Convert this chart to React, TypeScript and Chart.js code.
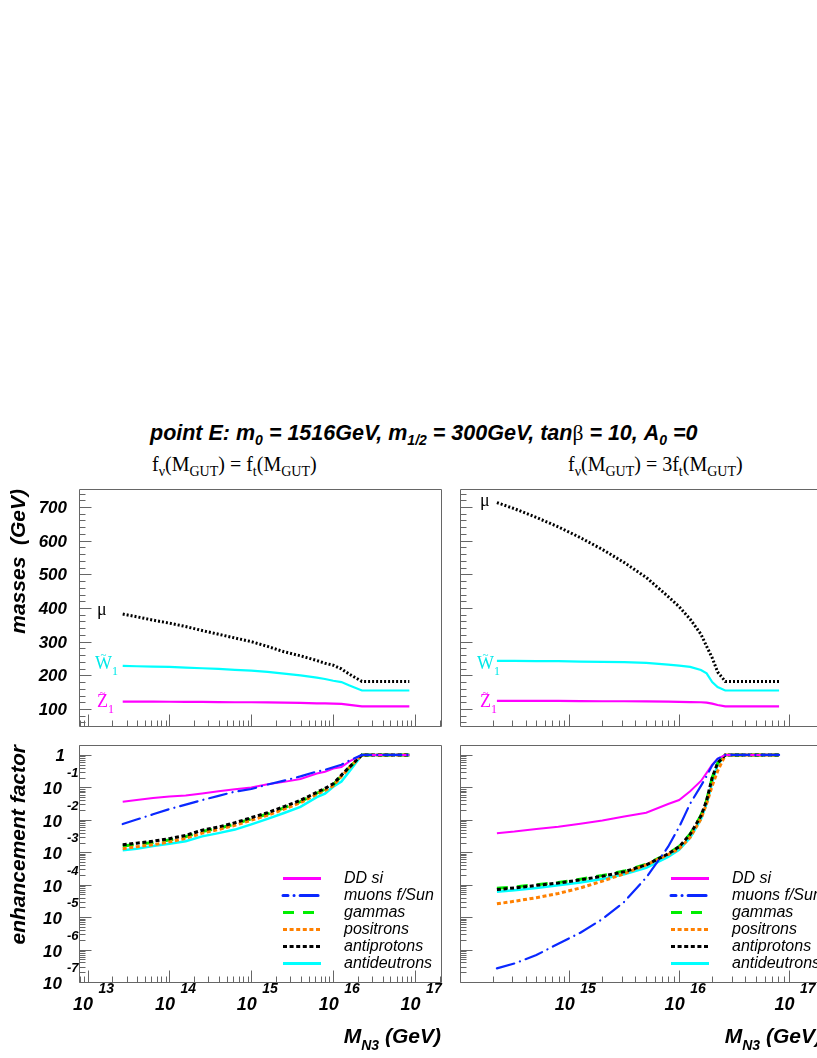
import { useEffect, useRef } from 'react';
import { Chart, registerables } from 'chart.js';

Chart.register(...registerables);

// ---------------- DATA ----------------
// M_N3 values (GeV), left panels: f_nu = f_t
const xLeft = [2.69e13, 3.98e13, 6.31e13, 1.0e14, 1.58e14, 2.51e14, 3.98e14, 6.31e14, 1.0e15, 1.58e15, 2.51e15, 3.98e15, 6.31e15, 7.94e15, 1.0e16, 1.26e16, 1.58e16, 2.24e16, 3.16e16, 5.01e16, 8.5e16];
// M_N3 values (GeV), right panels: f_nu = 3 f_t
const xRight = [2.19e14, 3.16e14, 5.01e14, 7.94e14, 1.26e15, 2.0e15, 3.16e15, 5.01e15, 7.94e15, 1.0e16, 1.26e16, 1.58e16, 1.78e16, 2.0e16, 2.24e16, 2.63e16, 3.55e16, 5.01e16, 8.13e16];

// masses (GeV)
const muMassLeft = [382, 374, 364, 355, 345, 333, 322, 311, 300, 286, 270, 258, 244, 236, 230, 219, 203, 182, 182, 182, 182];
const w1MassLeft = [228, 227, 226, 225, 223, 221, 219, 216, 214, 210, 205, 200, 193, 189, 184, 180, 170, 155, 155, 155, 155];
const z1MassLeft = [122, 122, 122, 121.5, 121, 121, 120.5, 120, 120, 119.5, 119, 118, 117, 116.5, 116, 115, 112, 108, 108, 108, 108];

const muMassRight = [713, 695, 669, 641, 609, 574, 535, 491, 434, 404, 367, 322, 286, 252, 210, 182, 182, 182, 182];
const w1MassRight = [243, 243, 242.5, 242, 241, 240, 239, 237, 232, 229, 225, 216, 206, 180, 165, 155, 155, 155, 155];
const z1MassRight = [124, 124, 124, 124, 123.5, 123, 123, 122.5, 122, 121, 120.5, 120, 119, 116, 112, 108, 108, 108, 108];

// enhancement factors
const ddLeft = [0.0363, 0.0407, 0.0468, 0.0525, 0.0562, 0.0646, 0.0759, 0.0871, 0.1, 0.126, 0.148, 0.182, 0.269, 0.302, 0.38, 0.427, 0.631, 1, 1, 1, 1];
const muonsLeft = [0.00741, 0.0102, 0.0148, 0.0214, 0.0295, 0.0407, 0.055, 0.0741, 0.0891, 0.123, 0.162, 0.219, 0.309, 0.347, 0.417, 0.501, 0.676, 1, 1, 1, 1];
const gammasLeft = [0.00155, 0.00174, 0.002, 0.0024, 0.00302, 0.00437, 0.0055, 0.00741, 0.0107, 0.0151, 0.0234, 0.0363, 0.0661, 0.0871, 0.12, 0.229, 0.417, 1, 1, 1, 1];
const positronsLeft = [0.00129, 0.00148, 0.0017, 0.00209, 0.00269, 0.00389, 0.00501, 0.00676, 0.00977, 0.0138, 0.0214, 0.0339, 0.0617, 0.0813, 0.112, 0.219, 0.407, 1, 1, 1, 1];
const antiprotonsLeft = [0.0017, 0.00191, 0.00219, 0.00263, 0.00331, 0.00479, 0.00603, 0.00813, 0.0117, 0.0166, 0.0257, 0.0398, 0.0708, 0.0933, 0.129, 0.24, 0.427, 1, 1, 1, 1];
const antideutronsLeft = [0.00115, 0.00129, 0.00155, 0.00182, 0.00219, 0.00309, 0.00389, 0.00501, 0.00724, 0.0107, 0.0162, 0.0251, 0.0501, 0.0646, 0.105, 0.151, 0.316, 1, 1, 1, 1];

const ddRight = [0.00389, 0.00437, 0.00525, 0.00617, 0.00759, 0.00955, 0.0126, 0.0166, 0.0309, 0.0407, 0.0759, 0.158, 0.28, 0.5, 0.76, 1, 1, 1, 1];
const muonsRight = [2.63e-7, 3.72e-7, 6.76e-7, 1.51e-6, 3.31e-6, 8.71e-6, 2.95e-5, 1.66e-4, 1.48e-3, 6.03e-3, 0.0316, 0.112, 0.224, 0.479, 0.759, 1, 1, 1, 1];
const gammasRight = [7.76e-5, 8.51e-5, 1.0e-4, 1.17e-4, 1.48e-4, 1.91e-4, 2.63e-4, 4.27e-4, 9.12e-4, 1.51e-3, 3.63e-3, 0.0135, 0.0398, 0.2, 0.562, 1, 1, 1, 1];
const positronsRight = [2.57e-5, 3.09e-5, 3.98e-5, 5.37e-5, 7.94e-5, 1.29e-4, 2.19e-4, 4.07e-4, 8.51e-4, 1.29e-3, 2.88e-3, 0.0107, 0.0316, 0.112, 0.316, 1, 1, 1, 1];
const antiprotonsRight = [7.08e-5, 7.94e-5, 9.55e-5, 1.12e-4, 1.41e-4, 1.82e-4, 2.51e-4, 4.07e-4, 8.91e-4, 1.48e-3, 3.55e-3, 0.0132, 0.0398, 0.2, 0.562, 1, 1, 1, 1];
const antideutronsRight = [6.03e-5, 6.76e-5, 7.94e-5, 9.55e-5, 1.17e-4, 1.51e-4, 2.09e-4, 3.31e-4, 7.24e-4, 1.2e-3, 2.82e-3, 0.0105, 0.0316, 0.141, 0.501, 1, 1, 1, 1];

const massTicks = [100, 200, 300, 400, 500, 600, 700];
const legendLabels = ['DD si', 'muons f/Sun', 'gammas', 'positrons', 'antiprotons', 'antideutrons'];

// ---------------- STYLE ----------------
const SANS = '"Liberation Sans", Arial, Helvetica, sans-serif';
const SERIF = '"Liberation Serif", "Times New Roman", serif';
const AX = '#666';

type Series = {
  label: string; values: number[]; color: string; width: number; dash: number[];
  cap?: CanvasLineCap; order: number; legendOffset?: number;
};
type Annot = { text: string; sub?: string; tilde?: boolean; color: string; y: number; dx: number };
type PanelCfg = {
  left: number; top: number; w: number; h: number;
  pad: { left: number; top: number; right: number; bottom: number };
  x: number[]; xMin: number; xMax: number;
  yLog: boolean; yMin: number; yMax: number;
  series: Series[];
  yLabels: boolean; xLabels: boolean;
  yTitle?: string; xTitle?: boolean;
  legendX?: number;
  annots?: Annot[];
};

const effSeries = (dd: number[], mu: number[], ga: number[], po: number[], ap: number[], ad: number[]): Series[] => [
  { label: legendLabels[0], values: dd, color: '#ff00ff', width: 2, dash: [], order: 1 },
  { label: legendLabels[1], values: mu, color: '#0a28ff', width: 2.2, dash: [18, 6, 0.1, 6], cap: 'round', order: 0, legendOffset: 13 },
  { label: legendLabels[2], values: ga, color: '#00ee00', width: 3, dash: [11, 9], order: 4 },
  { label: legendLabels[3], values: po, color: '#ff8000', width: 3, dash: [4, 2.6], order: 3 },
  { label: legendLabels[4], values: ap, color: '#000000', width: 3, dash: [4, 2.6], order: 2 },
  { label: legendLabels[5], values: ad, color: '#00ffff', width: 2.5, dash: [], order: 5 },
];

const massSeries = (mu: number[], w1: number[], z1: number[]): Series[] => [
  { label: 'mu', values: mu, color: '#000000', width: 3, dash: [2, 2], order: 0 },
  { label: 'W1', values: w1, color: '#00ffff', width: 2.2, dash: [], order: 1 },
  { label: 'Z1', values: z1, color: '#ff00ff', width: 2.2, dash: [], order: 2 },
];

const X_LEFT_MIN = 7.87e12, X_LEFT_MAX = 2.07e17;
const X_RIGHT_MIN = 1.01e14, X_RIGHT_MAX = 2.0e17;

const panels: PanelCfg[] = [
  {
    left: 0, top: 470, w: 450, h: 262, pad: { left: 79, top: 19, right: 9, bottom: 6 },
    x: xLeft, xMin: X_LEFT_MIN, xMax: X_LEFT_MAX, yLog: false, yMin: 49.5, yMax: 753.5,
    series: massSeries(muMassLeft, w1MassLeft, z1MassLeft), yLabels: true, xLabels: false,
    yTitle: 'masses  (GeV)',
    annots: [
      { text: 'μ', color: '#000', y: 379, dx: 18 },
      { text: 'W', tilde: true, sub: '1', color: '#00e8e8', y: 219, dx: 16 },
      { text: 'Z', tilde: true, sub: '1', color: '#ff00ff', y: 106, dx: 18 },
    ],
  },
  {
    left: 450, top: 470, w: 385, h: 262, pad: { left: 10, top: 19, right: 13, bottom: 6 },
    x: xRight, xMin: X_RIGHT_MIN, xMax: X_RIGHT_MAX, yLog: false, yMin: 49.5, yMax: 753.5,
    series: massSeries(muMassRight, w1MassRight, z1MassRight), yLabels: false, xLabels: false,
    annots: [
      { text: 'μ', color: '#000', y: 703, dx: 20 },
      { text: 'W', tilde: true, sub: '1', color: '#00e8e8', y: 219, dx: 17 },
      { text: 'Z', tilde: true, sub: '1', color: '#ff00ff', y: 106, dx: 20 },
    ],
  },
  {
    left: 0, top: 735, w: 450, h: 323, pad: { left: 79, top: 10, right: 9, bottom: 76 },
    x: xLeft, xMin: X_LEFT_MIN, xMax: X_LEFT_MAX, yLog: true, yMin: 1e-7, yMax: 2.03,
    series: effSeries(ddLeft, muonsLeft, gammasLeft, positronsLeft, antiprotonsLeft, antideutronsLeft),
    yLabels: true, xLabels: true, yTitle: 'enhancement factor', xTitle: true, legendX: 204,
  },
  {
    left: 450, top: 735, w: 385, h: 323, pad: { left: 10, top: 10, right: 13, bottom: 76 },
    x: xRight, xMin: X_RIGHT_MIN, xMax: X_RIGHT_MAX, yLog: true, yMin: 1e-7, yMax: 2.03,
    series: effSeries(ddRight, muonsRight, gammasRight, positronsRight, antiprotonsRight, antideutronsRight),
    yLabels: false, xLabels: true, xTitle: true, legendX: 211,
  },
];

function drawDecor(chart: any, p: PanelCfg) {
  const ctx: CanvasRenderingContext2D = chart.ctx;
  const a = chart.chartArea;
  const xs = chart.scales.x;
  const ys = chart.scales.y;
  ctx.save();
  const L = Math.round(a.left) + 0.5, T = Math.round(a.top) + 0.5;
  const R = Math.round(a.right) + 0.5, B = Math.round(a.bottom) + 0.5;

  // frame + ticks
  ctx.strokeStyle = AX;
  ctx.lineWidth = 1;
  ctx.setLineDash([]);
  ctx.beginPath();
  ctx.rect(L, T, R - L, B - T);
  const xe0 = Math.floor(Math.log10(p.xMin)), xe1 = Math.ceil(Math.log10(p.xMax));
  for (let e = xe0; e <= xe1; e++) {
    for (let k = 1; k <= 9; k++) {
      const v = k * Math.pow(10, e);
      if (v < p.xMin || v > p.xMax) continue;
      const px = Math.round(xs.getPixelForValue(v)) + 0.5;
      ctx.moveTo(px, B);
      ctx.lineTo(px, B - (k === 1 ? 12 : 6));
    }
  }
  if (p.yLog) {
    const ye0 = Math.floor(Math.log10(p.yMin)), ye1 = Math.ceil(Math.log10(p.yMax));
    for (let e = ye0; e <= ye1; e++) {
      for (let k = 1; k <= 9; k++) {
        const v = k * Math.pow(10, e);
        if (v < p.yMin * 0.999 || v > p.yMax) continue;
        const py = Math.round(ys.getPixelForValue(v)) + 0.5;
        ctx.moveTo(L, py);
        ctx.lineTo(L + (k === 1 ? 12 : 6), py);
      }
    }
  } else {
    for (let v = 60; v <= 740; v += 20) {
      const py = Math.round(ys.getPixelForValue(v)) + 0.5;
      ctx.moveTo(L, py);
      ctx.lineTo(L + (v % 100 === 0 ? 12 : 6), py);
    }
  }
  ctx.stroke();

  ctx.fillStyle = '#000';
  // y tick labels
  if (p.yLabels) {
    if (p.yLog) {
      for (let e = 0; e >= -7; e--) {
        const py = ys.getPixelForValue(Math.pow(10, e));
        if (e === 0) {
          ctx.font = `italic bold 17px ${SANS}`;
          ctx.textAlign = 'right';
          ctx.textBaseline = 'alphabetic';
          ctx.fillText('1', a.left - 14, py + 6);
        } else {
          ctx.font = `italic bold 17px ${SANS}`;
          ctx.textAlign = 'right';
          ctx.textBaseline = 'alphabetic';
          ctx.fillText('10', a.left - 17, py + 7);
          ctx.font = `italic bold 13px ${SANS}`;
          ctx.textAlign = 'left';
          ctx.fillText(String(e), a.left - 12, py - 10);
        }
      }
    } else {
      ctx.font = `italic bold 17px ${SANS}`;
      ctx.textAlign = 'right';
      ctx.textBaseline = 'alphabetic';
      for (const v of massTicks) {
        const py = ys.getPixelForValue(v);
        ctx.fillText(String(v), a.left - 12, py + 6);
      }
    }
  }
  // x tick labels
  if (p.xLabels) {
    for (let e = xe0; e <= xe1; e++) {
      const v = Math.pow(10, e);
      if (v < p.xMin || v > p.xMax) continue;
      const px = xs.getPixelForValue(v);
      ctx.font = `italic bold 18px ${SANS}`;
      ctx.textAlign = 'right';
      ctx.textBaseline = 'alphabetic';
      ctx.fillText('10', px + 5.5, a.bottom + 28);
      ctx.font = `italic bold 14px ${SANS}`;
      ctx.textAlign = 'left';
      ctx.fillText(String(e), px + 11, a.bottom + 11);
    }
  }
  // y title
  if (p.yTitle) {
    ctx.save();
    ctx.translate(25, a.top);
    ctx.rotate(-Math.PI / 2);
    ctx.font = `italic bold 21px ${SANS}`;
    ctx.textAlign = 'right';
    ctx.textBaseline = 'alphabetic';
    ctx.fillText(p.yTitle, 0, 0);
    ctx.restore();
  }
  // x title
  if (p.xTitle) {
    const big = `italic bold 21px ${SANS}`;
    const small = `italic bold 14px ${SANS}`;
    ctx.textAlign = 'left';
    ctx.textBaseline = 'alphabetic';
    ctx.font = big;
    const wM = ctx.measureText('M').width;
    const wRest = ctx.measureText(' (GeV)').width;
    ctx.font = small;
    const wS = ctx.measureText('N3').width;
    let x = a.right - (wM + wS + wRest);
    const yb = a.bottom + 61;
    ctx.font = big; ctx.fillText('M', x, yb); x += wM;
    ctx.font = small; ctx.fillText('N3', x, yb + 7); x += wS;
    ctx.font = big; ctx.fillText(' (GeV)', x, yb);
  }
  // legend
  if (p.legendX !== undefined) {
    p.series.forEach((s, i) => {
      const y = Math.round(a.bottom - 104.5 + i * 17.1) + 0.5;
      const x0 = a.left + p.legendX!;
      ctx.save();
      ctx.strokeStyle = s.color;
      ctx.lineWidth = 3;
      ctx.setLineDash(s.dash);
      ctx.lineDashOffset = s.legendOffset ?? 0;
      ctx.lineCap = s.cap ?? 'butt';
      ctx.beginPath();
      ctx.moveTo(x0, y);
      ctx.lineTo(x0 + 38, y);
      ctx.stroke();
      ctx.restore();
      ctx.fillStyle = '#000';
      ctx.font = `italic 16px ${SANS}`;
      ctx.textAlign = 'left';
      ctx.textBaseline = 'middle';
      ctx.fillText(s.label, x0 + 61, y);
    });
  }
  // annotations (particle labels)
  for (const an of p.annots ?? []) {
    const y = ys.getPixelForValue(an.y);
    const x = a.left + an.dx;
    ctx.fillStyle = an.color;
    ctx.textBaseline = 'alphabetic';
    ctx.textAlign = 'left';
    ctx.font = `18px ${SERIF}`;
    ctx.fillText(an.text, x, y);
    const w = ctx.measureText(an.text).width;
    if (an.tilde) {
      ctx.font = `11px ${SERIF}`;
      ctx.textAlign = 'center';
      ctx.fillText('~', x + w / 2, y - 11);
    }
    if (an.sub) {
      ctx.font = `12px ${SERIF}`;
      ctx.textAlign = 'left';
      ctx.fillText(an.sub, x + w, y + 6);
    }
  }
  ctx.restore();
}

function Panel({ cfg }: { cfg: PanelCfg }) {
  const ref = useRef<HTMLCanvasElement>(null);
  useEffect(() => {
    const decor = {
      id: 'rootDecor',
      afterDraw(chart: any) { drawDecor(chart, cfg); },
    };
    const chart = new Chart(ref.current as HTMLCanvasElement, {
      type: 'line',
      data: {
        datasets: cfg.series.map((s) => ({
          label: s.label,
          data: cfg.x.map((xv, i) => ({ x: xv, y: s.values[i] })),
          borderColor: s.color,
          backgroundColor: s.color,
          borderWidth: s.width,
          borderDash: s.dash,
          borderCapStyle: s.cap ?? 'butt',
          pointRadius: 0,
          tension: 0,
          fill: false,
          order: s.order,
        })),
      },
      options: {
        animation: false,
        responsive: false,
        maintainAspectRatio: false,
        events: [],
        layout: { padding: cfg.pad },
        scales: {
          x: { type: 'logarithmic', min: cfg.xMin, max: cfg.xMax, display: false },
          y: { type: cfg.yLog ? 'logarithmic' : 'linear', min: cfg.yMin, max: cfg.yMax, display: false },
        },
        plugins: { legend: { display: false }, tooltip: { enabled: false } },
      } as any,
      plugins: [decor],
    });
    return () => chart.destroy();
  }, [cfg]);
  return (
    <canvas
      ref={ref}
      width={cfg.w}
      height={cfg.h}
      style={{ position: 'absolute', left: cfg.left, top: cfg.top, width: cfg.w, height: cfg.h }}
    />
  );
}

const subS: any = { fontSize: 14, verticalAlign: '-5px', lineHeight: 0 };
const subSerif: any = { fontSize: 14, verticalAlign: '-5px', lineHeight: 0 };

export default function App() {
  return (
    <div style={{ position: 'absolute', left: 0, top: 0, width: 817, height: 1058, overflow: 'hidden', background: '#fff' }}>
      <div style={{ position: 'absolute', left: 150, top: 421, font: `italic bold 21.5px ${SANS}`, whiteSpace: 'nowrap', lineHeight: '24px', color: '#000' }}>
        point E: m<span style={subS}>0</span> = 1516GeV, m<span style={subS}>1/2</span> = 300GeV, tan
        <span style={{ fontFamily: SERIF, fontStyle: 'normal', fontWeight: 'normal' }}>β</span> = 10, A<span style={subS}>0</span> =0
      </div>
      <div style={{ position: 'absolute', left: 152, top: 453, font: `20px ${SERIF}`, whiteSpace: 'nowrap', lineHeight: '22px', color: '#000' }}>
        f<span style={subSerif}>ν</span>(M<span style={subSerif}>GUT</span>) = f<span style={subSerif}>t</span>(M<span style={subSerif}>GUT</span>)
      </div>
      <div style={{ position: 'absolute', left: 568, top: 453, font: `20px ${SERIF}`, whiteSpace: 'nowrap', lineHeight: '22px', color: '#000' }}>
        f<span style={subSerif}>ν</span>(M<span style={subSerif}>GUT</span>) = 3f<span style={subSerif}>t</span>(M<span style={subSerif}>GUT</span>)
      </div>
      {panels.map((p, i) => (
        <Panel key={i} cfg={p} />
      ))}
    </div>
  );
}
